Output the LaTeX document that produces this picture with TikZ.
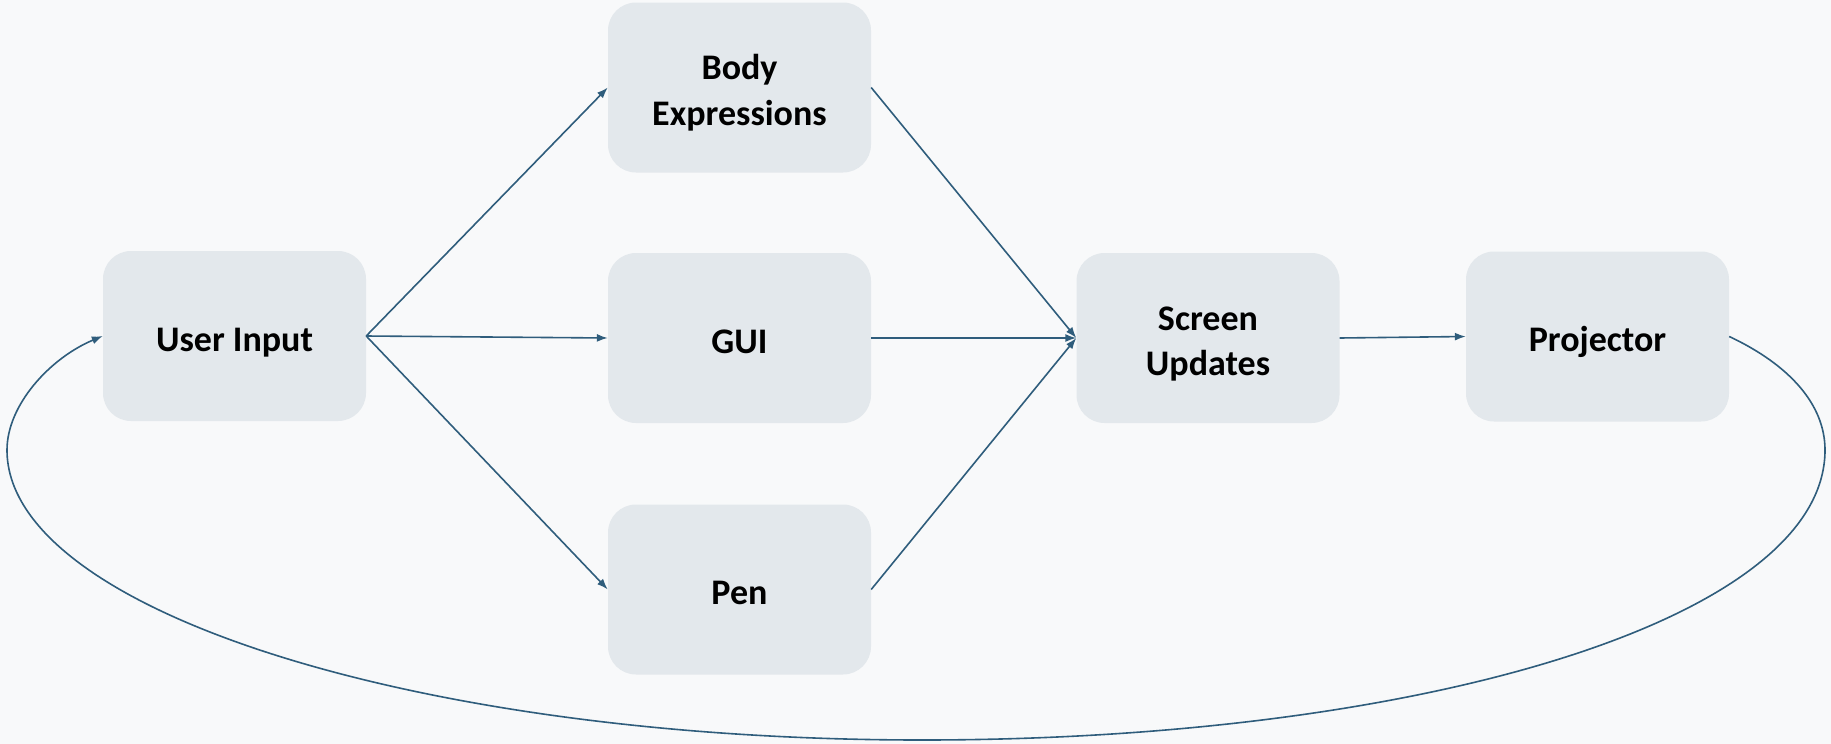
\documentclass[tikz,border=0pt]{standalone}
\usepackage{fontspec}
\setmainfont{Carlito}
\usetikzlibrary{arrows.meta}
\definecolor{bgc}{HTML}{F8F9FA}
\definecolor{boxc}{HTML}{E3E8EC}
\definecolor{edgec}{HTML}{2F5D7C}
\newcommand\boxlbl[1]{\raisebox{-6pt}[\height][\depth]{\begin{tabular}{@{}c@{}}#1\end{tabular}}}
\tikzset{
  box/.style={fill=boxc, draw=none, rounded corners=28pt, minimum width=263pt, minimum height=170pt, inner sep=0pt, font=\fontsize{36}{45.5}\selectfont\bfseries, text=black},
  conn/.style={draw=edgec, line width=1.6pt, -{Latex[length=11pt,width=8pt]}}
}
\begin{document}
\begin{tikzpicture}[x=1pt,y=-1pt]
\fill[bgc] (0,0) rectangle (1831,744);
\useasboundingbox (0,0) rectangle (1831,744);
\node[box] (ui) at (234.5,336) {\boxlbl{User Input}};
\node[box] (body) at (739.5,87.5) {\boxlbl{Body\\Expressions}};
\node[box] (gui) at (739.5,338) {\boxlbl{GUI}};
\node[box] (pen) at (739.5,589.5) {\boxlbl{Pen}};
\node[box] (su) at (1208,338) {\boxlbl{Screen\\Updates}};
\node[box] (proj) at (1597.5,336.5) {\boxlbl{Projector}};
\draw[conn] (ui.east) -- (body.west);
\draw[conn] (ui.east) -- (gui.west);
\draw[conn] (ui.east) -- (pen.west);
\draw[conn] (body.east) -- (su.west);
\draw[conn] (gui.east) -- (su.west);
\draw[conn] (pen.east) -- (su.west);
\draw[conn] (su.east) -- (proj.west);
\coordinate (r) at (1825,450);
\coordinate (b) at (922,740);
\coordinate (l) at (7,450);
\draw[conn] (proj.east) .. controls (1790,365) and (1825,405) .. (r)
  .. controls (1825,620) and (1420,740) .. (b)
  .. controls (417,740) and (7,610) .. (l)
  .. controls (7,405) and (50,358) .. (ui.west);
\end{tikzpicture}
\end{document}
